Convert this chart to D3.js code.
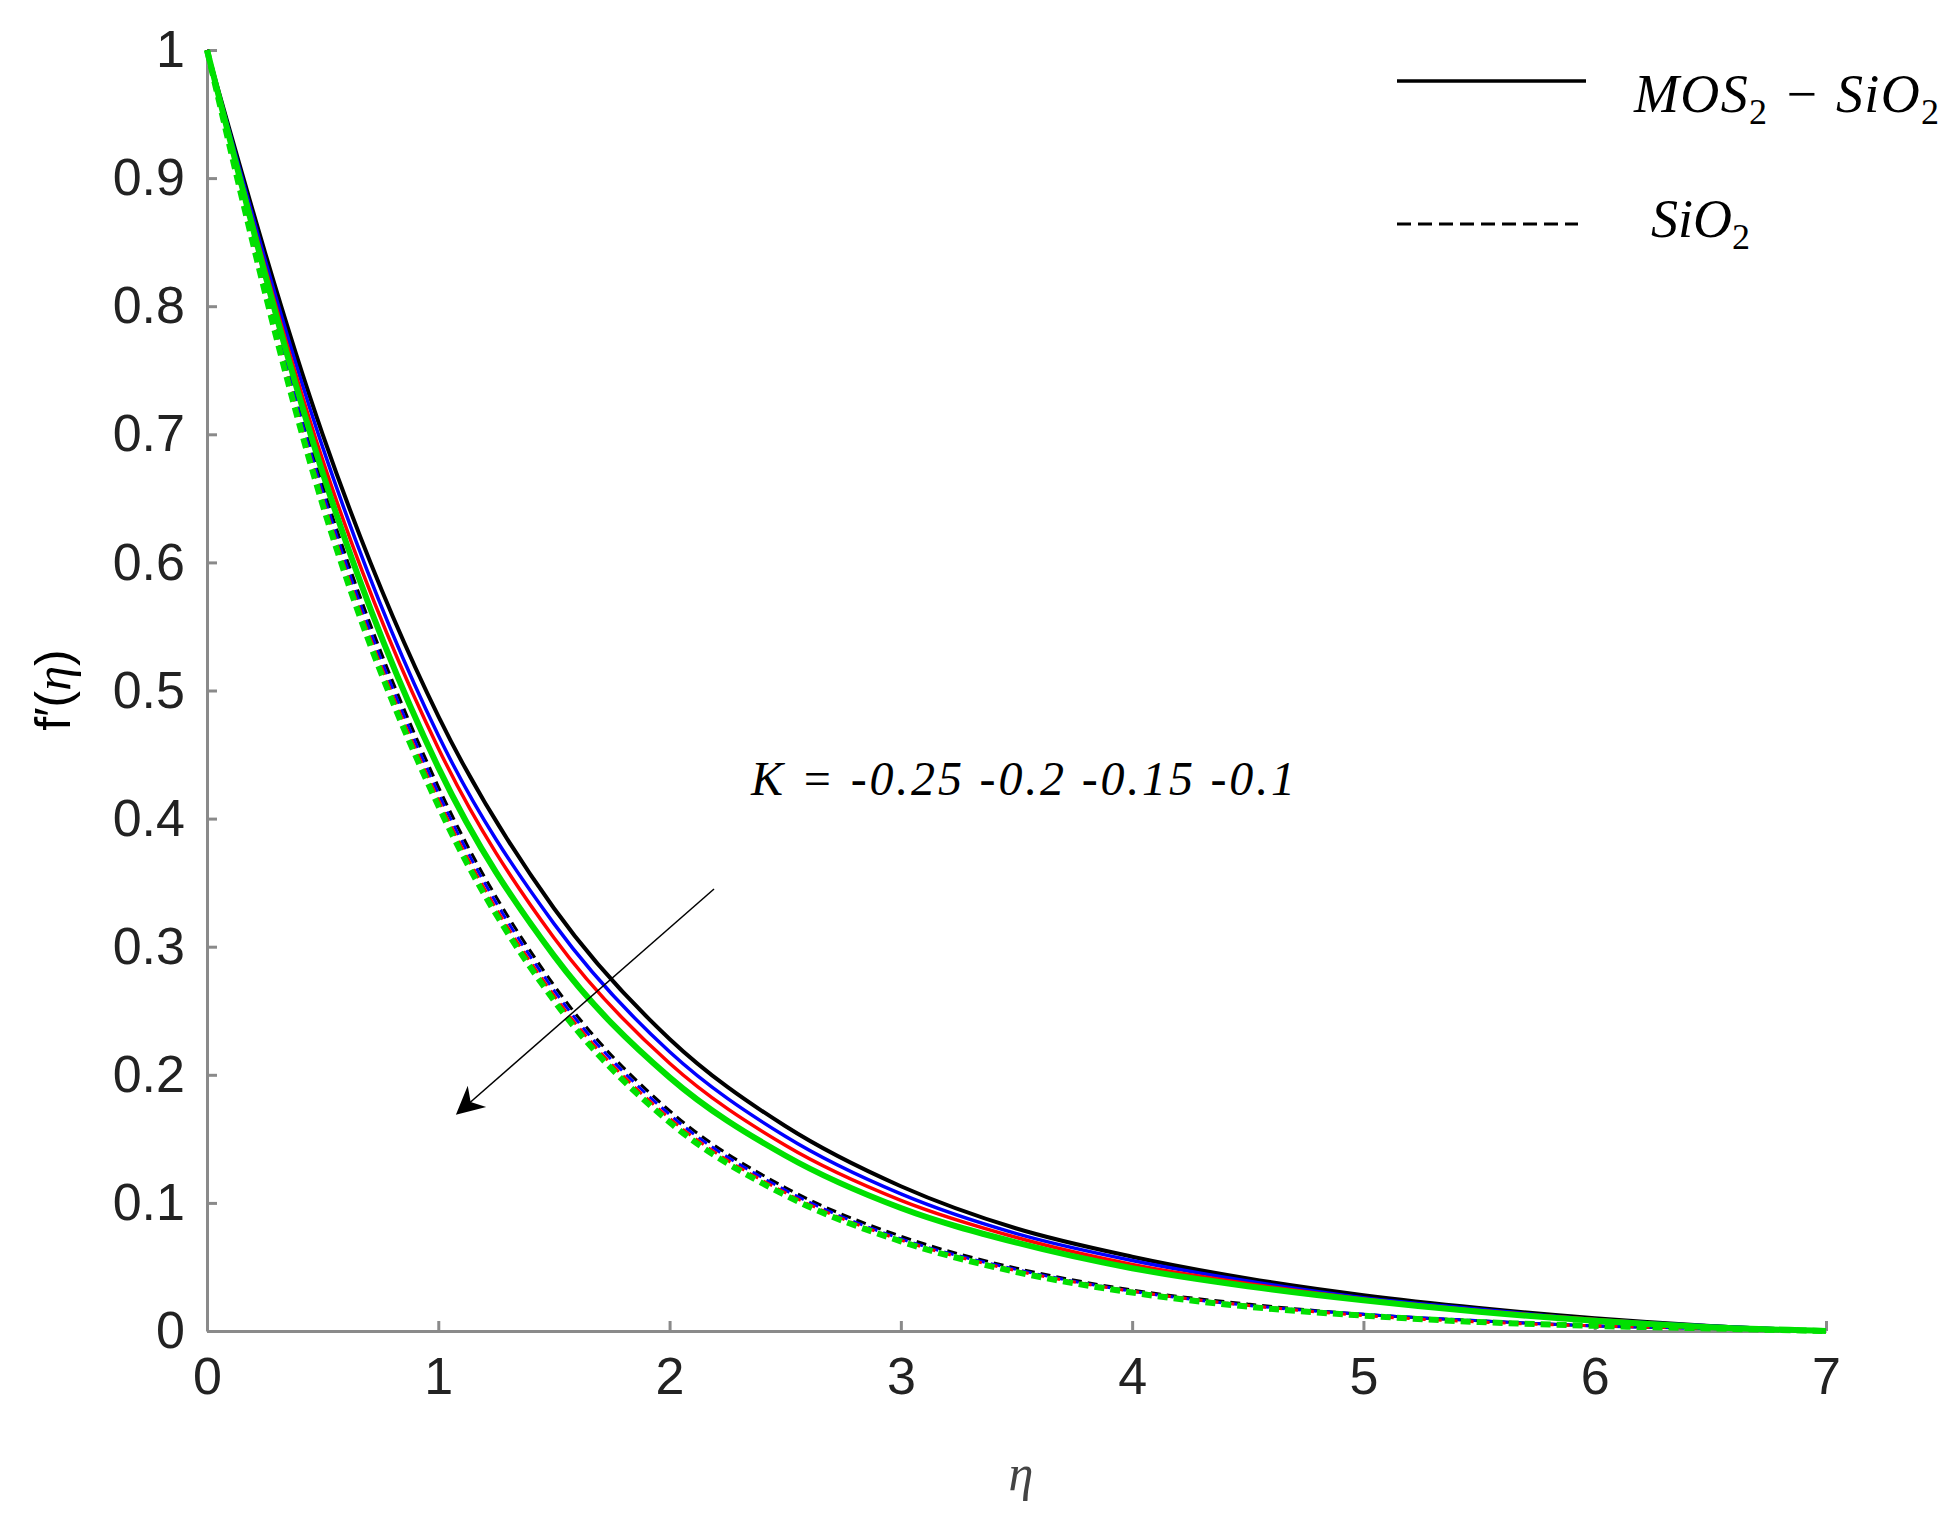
<!DOCTYPE html>
<html><head><meta charset="utf-8">
<script src="https://cdn.jsdelivr.net/npm/d3@7"></script>
<style>body{margin:0;background:#fff}</style></head>
<body><svg id="c" width="1953" height="1528"></svg>
<script>
const eta = [0,0.5,1,1.5,2,2.5,3,3.5,4,4.5,5,5.5,6,6.5,7];
const solidBlack = [1,0.70,0.48,0.33,0.228,0.16,0.113,0.08,0.058,0.041,0.028,0.018,0.010,0.004,0];
const solidBlue  = [1,0.69,0.465,0.318,0.218,0.152,0.107,0.076,0.055,0.039,0.026,0.017,0.009,0.004,0];
const solidRed   = [1,0.68,0.455,0.307,0.209,0.145,0.102,0.073,0.052,0.037,0.025,0.016,0.009,0.003,0];
const solidGreen = [1,0.67,0.44,0.293,0.198,0.137,0.096,0.069,0.049,0.035,0.024,0.015,0.008,0.003,0];
const dashBlack  = [1,0.66,0.425,0.27,0.172,0.112,0.074,0.049,0.032,0.021,0.013,0.008,0.004,0.002,0];
const dashBlue   = [1,0.655,0.42,0.266,0.169,0.110,0.072,0.048,0.031,0.020,0.013,0.008,0.004,0.002,0];
const dashRed    = [1,0.65,0.415,0.262,0.166,0.108,0.071,0.047,0.031,0.020,0.012,0.007,0.004,0.002,0];
const dashGreen  = [1,0.645,0.41,0.258,0.163,0.106,0.070,0.046,0.030,0.019,0.012,0.007,0.004,0.002,0];
const xTicks = [0,1,2,3,4,5,6,7];
const yTicks = [0,0.1,0.2,0.3,0.4,0.5,0.6,0.7,0.8,0.9,1];

const svg = d3.select("#c");
const x = d3.scaleLinear().domain([0,7]).range([207,1826]);
const y = d3.scaleLinear().domain([0,1]).range([1331,50]);
const axCol = "#8a8a8a";

const gx = svg.append("g").attr("transform","translate(0,1331)")
  .call(d3.axisBottom(x).tickValues(xTicks).tickFormat(d3.format("d")).tickSizeInner(-10).tickSizeOuter(0).tickPadding(26));
const gy = svg.append("g").attr("transform","translate(207,0)")
  .call(d3.axisLeft(y).tickValues(yTicks).tickFormat(d=>d===0||d===1?String(d):d3.format(".1f")(d)).tickSizeInner(-10).tickSizeOuter(0).tickPadding(22));
[gx,gy].forEach(g=>{
  g.selectAll("path,line").attr("stroke",axCol).attr("stroke-width",3);
  g.selectAll("text").attr("font-family","Liberation Sans, Arial").attr("font-size",52).attr("fill","#222");
});
gx.selectAll("text").attr("dy","0.71em");

const line = d3.line().x((d,i)=>x(eta[i])).y(d=>y(d)).curve(d3.curveMonotoneX);
const series = [
  [dashBlack,"#000",3,"10,6"],[dashBlue,"#0000ff",3,"10,6"],[dashRed,"#ff0000",3,"10,6"],[dashGreen,"#00e000",6,"10,6"],
  [solidBlack,"#000",4,null],[solidBlue,"#0000ff",3.5,null],[solidRed,"#ff0000",3.5,null],[solidGreen,"#00e000",6,null]
];
series.forEach(([v,c,w,da])=>{
  svg.append("path").attr("d",line(v)).attr("fill","none").attr("stroke",c)
    .attr("stroke-width",w).attr("stroke-dasharray",da);
});

// legend
svg.append("line").attr("x1",1397).attr("x2",1586).attr("y1",81).attr("y2",81).attr("stroke","#000").attr("stroke-width",3.5);
svg.append("line").attr("x1",1397).attr("x2",1578).attr("y1",224).attr("y2",224).attr("stroke","#000").attr("stroke-width",3).attr("stroke-dasharray","14,7");
const lt1 = svg.append("text").attr("x",1634).attr("y",112).attr("font-family","Liberation Serif, serif").attr("font-style","italic").attr("font-size",54).attr("textLength",305);
lt1.append("tspan").text("MOS");
lt1.append("tspan").attr("font-size",36).attr("dy",12).attr("font-style","normal").text("2");
lt1.append("tspan").attr("dy",-12).text(" − SiO");
lt1.append("tspan").attr("font-size",36).attr("dy",12).attr("font-style","normal").text("2");
const lt2 = svg.append("text").attr("x",1651).attr("y",237).attr("font-family","Liberation Serif, serif").attr("font-style","italic").attr("font-size",54);
lt2.append("tspan").text("SiO");
lt2.append("tspan").attr("font-size",36).attr("dy",12).attr("font-style","normal").text("2");

// annotation
svg.append("text").attr("x",751).attr("y",795).attr("font-family","Liberation Serif, serif").attr("font-style","italic")
  .attr("font-size",48).attr("textLength",544).text("K = -0.25 -0.2 -0.15 -0.1");
svg.append("defs").append("marker").attr("id","ah").attr("viewBox","0 0 10 10").attr("refX",9).attr("refY",5)
  .attr("markerUnits","userSpaceOnUse").attr("orient","auto")
  .attr("markerWidth",40).attr("markerHeight",28)
  .append("path").attr("d","M0,0 L10,5 L0,10 L3,5 Z").attr("fill","#000");
svg.append("line").attr("x1",714).attr("y1",889).attr("x2",458).attr("y2",1113).attr("stroke","#000").attr("stroke-width",1.5).attr("marker-end","url(#ah)");

// axis labels
svg.append("text").attr("transform","translate(70,690) rotate(-90)").attr("text-anchor","middle")
  .attr("font-family","Liberation Sans, Arial").attr("font-size",50).html("f′(<tspan font-family='Liberation Serif, serif' font-style='italic'>η</tspan>)");
svg.append("text").attr("x",1021).attr("y",1490).attr("text-anchor","middle").attr("font-family","Liberation Serif, serif")
  .attr("font-style","italic").attr("font-size",50).attr("fill","#444").text("η");
</script></body></html>
